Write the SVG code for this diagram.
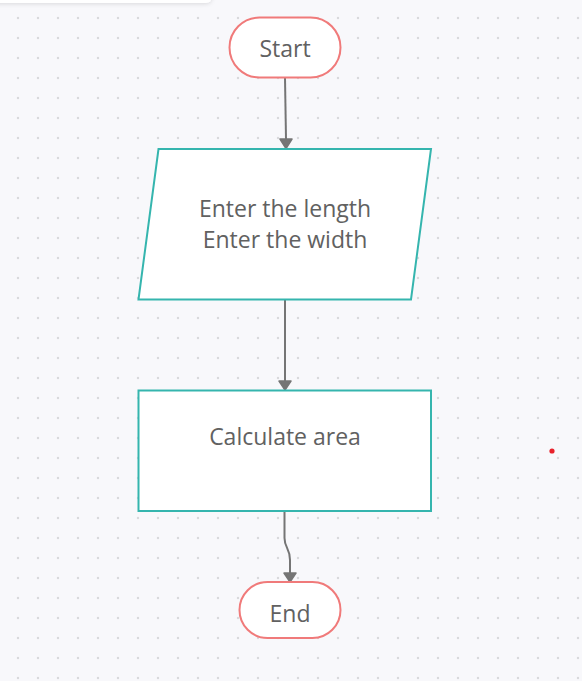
<svg xmlns="http://www.w3.org/2000/svg" width="582" height="681" viewBox="0 0 582 681">
<defs>
<pattern id="grid" x="8" y="8" width="20" height="20" patternUnits="userSpaceOnUse">
<circle cx="10" cy="10" r="1.2" fill="#d8d8dc"/>
</pattern>
<filter id="sh" x="-10%" y="-100%" width="120%" height="400%">
<feDropShadow dx="0" dy="1" stdDeviation="2" flood-color="#000" flood-opacity="0.12"/>
</filter>
<style>
.term{fill:#fff;stroke:#f07a7a;stroke-width:2}
.proc{fill:#fff;stroke:#35b5ae;stroke-width:2}
.lbl{font-family:"Open Sans","Noto Sans",sans-serif;font-size:23px;fill:#616161;text-anchor:middle}
.conn{fill:none;stroke:#757575;stroke-width:2}
.head{fill:#757575;stroke:#757575;stroke-width:1.5;stroke-linejoin:round}
</style>
</defs>
<rect width="582" height="681" fill="#f8f8fb"/>
<rect width="582" height="681" fill="url(#grid)"/>
<rect x="-20" y="-20" width="232" height="23" rx="6" fill="#fff" filter="url(#sh)"/>
<g id="connectors">
<path class="conn" d="M285,78 L286,139"/>
<path class="head" d="M280,139 L292,139 L286,148.5 Z"/>
<path class="conn" d="M285,300 L285,381"/>
<path class="head" d="M279,381 L291,381 L285,390 Z"/>
<path class="conn" d="M284.5,512 L284.5,538 C284.5,548 290,548 290,560 L290,573"/>
<path class="head" d="M284,573 L296,573 L290,582 Z"/>
</g>
<g id="start">
<rect class="term" x="229.5" y="17.5" width="111" height="60" rx="30"/>
<text class="lbl" x="285" y="57">Start</text>
</g>
<g id="input">
<polygon class="proc" points="158.5,149 431,149 411,299.5 138.5,299.5"/>
<text class="lbl" x="285" y="217">Enter the length</text>
<text class="lbl" x="285" y="247.5">Enter the width</text>
</g>
<g id="calc">
<rect class="proc" x="138.5" y="390.5" width="292.5" height="120.5"/>
<text class="lbl" x="285" y="444.5">Calculate area</text>
</g>
<g id="end">
<rect class="term" x="239.5" y="582" width="101" height="56" rx="28"/>
<text class="lbl" x="290" y="622">End</text>
</g>
<circle cx="552" cy="451" r="2.6" fill="#e8212b"/>
</svg>
